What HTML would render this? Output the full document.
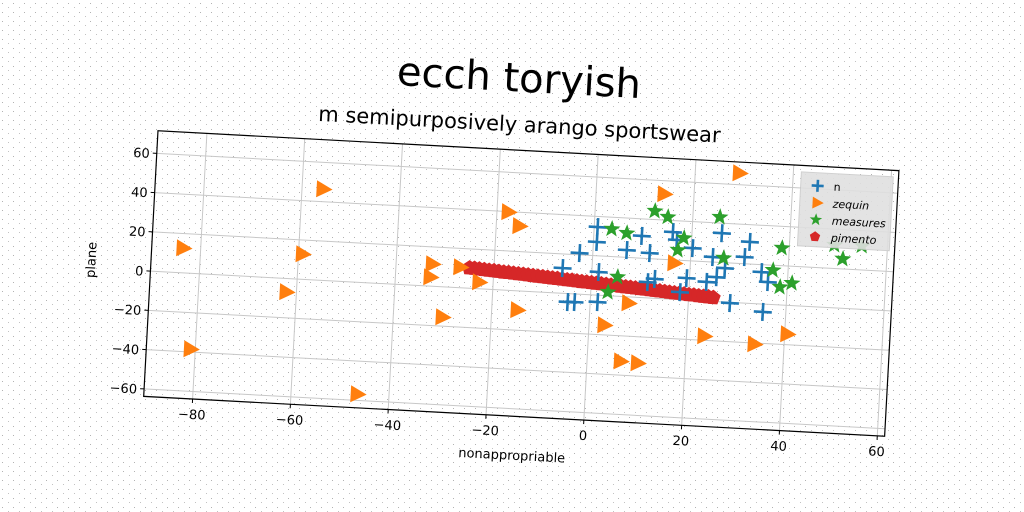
<!DOCTYPE html>
<html><head><meta charset="utf-8"><style>
html,body{margin:0;padding:0;background:#fff;width:1024px;height:512px;overflow:hidden}
svg{display:block}
text{font-family:"DejaVu Sans","Liberation Sans",sans-serif;fill:#000}
</style></head><body>
<svg id="chart" width="1024" height="512" viewBox="0 0 1024 512" xmlns="http://www.w3.org/2000/svg">
<defs>
<pattern id="speck" width="11" height="9" patternUnits="userSpaceOnUse">
<rect x="2" y="3" width="1" height="1" fill="#000"/><rect x="8" y="7" width="1" height="1" fill="#333"/>
</pattern>
</defs>
<rect width="1024" height="512" fill="#fff"/>
<rect width="1024" height="512" fill="url(#speck)" opacity="0.3"/>
<g id="fig" transform="rotate(3.08 521.3 283.5)">
<text x="508" y="92" text-anchor="middle" font-size="40" style="font-family:'Comic Sans MS','DejaVu Sans',sans-serif">ecch toryish</text>
<text x="511" y="132" text-anchor="middle" font-size="21" style="font-family:'Comic Sans MS','DejaVu Sans',sans-serif">m semipurposively arango sportswear</text>
<g id="grid"></g>
<g id="marks"></g>
<rect x="150.3" y="150.5" width="742" height="266" fill="none" stroke="#000" stroke-width="1.2"/>
<g id="ticks"></g>
<text x="521" y="460" text-anchor="middle" font-size="13">nonappropriable</text>
<text transform="translate(95 283) rotate(-90)" text-anchor="middle" font-size="13">plane</text>
<g id="legend">
<rect x="795" y="157" width="92" height="74" fill="#e0e0e0" opacity="0.9" stroke="#ccc"/>
</g>
</g>
</svg>
<script>
const xTicks=[-80,-60,-40,-20,0,20,40,60];
const yTicks=[-60,-40,-20,0,20,40,60];
const nX=[0.7,0.7,-2.7,6.9,9.8,11.6,16.1,17,20.3,24.5,26.1,31.9,31,34.6,36,-6,1.4,-4.6,-3.2,1.5,11.5,12.9,19.4,23.5,25.5,27.1,28.5,35.3,18.2];
const nY=[34.6,27,20.9,23.7,31.3,22.8,34.1,30.2,26.5,22.5,34.9,31.2,23.4,16.2,11.3,12.8,11.8,-4.3,-4.1,-3.5,8,9.8,11.1,9.7,12.4,17.2,-0.4,-4,3.8];
const zX=[-83.7,-55.8,-59.3,-62.2,-81.1,-46.6,-32.7,-33,-27,-23,-30.1,-17.8,-15.4,-14.9,13.8,28.9,16.6,7.7,3,6.7,10.2,23.5,33.8,40.4];
const zY=[12.6,46.4,12.8,-6.9,-38.5,-56.8,11.3,4.6,10.5,3.4,-15.4,39.8,33,-9.7,53.2,65.9,18.4,-3.2,-15,-32.9,-33.4,-17.9,-20.6,-14.6];
const mX=[12.2,14.9,25.5,3.6,6.7,18.4,17.3,26.7,38.5,49.2,54.8,51,36.9,38.5,40.9,5.3,3.5];
const mY=[44.3,41.6,43,34,32.3,31.4,25.1,22.3,29,31.9,32.2,25.1,17.5,9.1,11.4,9.8,1.8];
const pX=[-25,-24,-23,-22,-21,-20,-19,-18,-17,-16,-15,-14,-13,-12,-11,-10,-9,-8,-7,-6,-5,-4,-3,-2,-1,0,1,2,3,4,5,6,7,8,9,10,11,12,13,14,15,16,17,18,19,20,21,22,23,24,25];
const pY=[10.3,10.2,10.0,9.8,9.6,9.5,9.3,9.1,9.0,8.8,8.6,8.5,8.3,8.1,7.9,7.8,7.6,7.4,7.3,7.1,6.9,6.8,6.6,6.4,6.3,6.1,5.9,5.8,5.6,5.4,5.3,5.1,4.9,4.8,4.6,4.4,4.3,4.1,3.9,3.8,3.6,3.4,3.2,3.1,2.9,2.7,2.6,2.4,2.2,2.1,1.9];

const L=150.3,T=150.5,W=742,H=266,XMIN=-90,XMAX=61.5,YMIN=-63.8,YMAX=71.5;
const sx=v=>L+(v-XMIN)/(XMAX-XMIN)*W;
const sy=v=>T+(YMAX-v)/(YMAX-YMIN)*H;
const NS="http://www.w3.org/2000/svg";
function mk(tag,attrs,parent){const e=document.createElementNS(NS,tag);for(const k in attrs)e.setAttribute(k,attrs[k]);parent.appendChild(e);return e;}
const grid=document.getElementById('grid'),ticks=document.getElementById('ticks'),marks=document.getElementById('marks');
const fmt=v=>v<0?'\u2212'+Math.abs(v):String(v);
xTicks.forEach(v=>{
  const x=sx(v);
  const g=mk('line',{x1:x,x2:x,y1:T,y2:T+H,stroke:'#c8c8c8','stroke-width':1},grid);
  
  
  const t=mk('line',{x1:x,x2:x,y1:T+H,y2:T+H+4,stroke:'#000'},ticks);
  
  
  const l=mk('text',{x:x,y:T+H+20,'text-anchor':'middle','font-size':13},ticks);
  l.textContent=fmt(v);
  
  
});
yTicks.forEach(v=>{
  const y=sy(v);
  const g=mk('line',{x1:L,x2:L+W,y1:y,y2:y,stroke:'#c8c8c8','stroke-width':1},grid);
  
  
  const t=mk('line',{x1:L-4,x2:L,y1:y,y2:y,stroke:'#000'},ticks);
  
  
  const l=mk('text',{x:L-7,y:y+5,'text-anchor':'end','font-size':13},ticks);
  l.textContent=fmt(v);
  
  
});
function star(cx,cy,r){let p=[];for(let i=0;i<10;i++){const a=-Math.PI/2+i*Math.PI/5;const rr=i%2?r*0.42:r;p.push((cx+rr*Math.cos(a)).toFixed(1)+','+(cy+rr*Math.sin(a)).toFixed(1));}return p.join(' ');}
function pent(cx,cy,r){let p=[];for(let i=0;i<5;i++){const a=-Math.PI/2+i*2*Math.PI/5;p.push((cx+r*Math.cos(a)).toFixed(1)+','+(cy+r*Math.sin(a)).toFixed(1));}return p.join(' ');}
function plus(cx,cy,r,parent,col){return mk('path',{d:`M${cx-r},${cy}H${cx+r}M${cx},${cy-r}V${cy+r}`,stroke:col,'stroke-width':2.6,fill:'none'},parent);}
function tri(cx,cy,r){return `${cx+r},${cy} ${cx-r*0.6},${cy-r*0.85} ${cx-r*0.6},${cy+r*0.85}`;}
pX.forEach((v,i)=>{
  const e=mk('polygon',{points:pent(sx(v),sy(pY[i]),8),fill:'#d62728'},marks);
  
  
});
nX.forEach((v,i)=>{
  const e=plus(sx(v),sy(nY[i]),9,marks,'#1f77b4');
  
  
});
zX.forEach((v,i)=>{
  const e=mk('polygon',{points:tri(sx(v),sy(zY[i]),10),fill:'#ff7f0e'},marks);
  
  
});
mX.forEach((v,i)=>{
  const e=mk('polygon',{points:star(sx(v),sy(mY[i]),9),fill:'#2ca02c'},marks);
  
  
});
const leg=document.getElementById('legend');
const names=['n','zequin','measures','pimento'];
names.forEach((nm,i)=>{
  const y=170+i*17,x=812;
  let m;
  if(i===0)m=plus(x,y,6,leg,'#1f77b4');
  else if(i===1)m=mk('polygon',{points:tri(x,y,7),fill:'#ff7f0e'},leg);
  else if(i===2)m=mk('polygon',{points:star(x,y,6.5),fill:'#2ca02c'},leg);
  else m=mk('polygon',{points:pent(x,y,5.5),fill:'#d62728'},leg);
  
  
  const t=mk('text',{x:828,y:y+4,'font-size':11,'font-style':i?'italic':'normal'},leg);
  t.textContent=nm;
  
  
});
</script>
</body></html>
